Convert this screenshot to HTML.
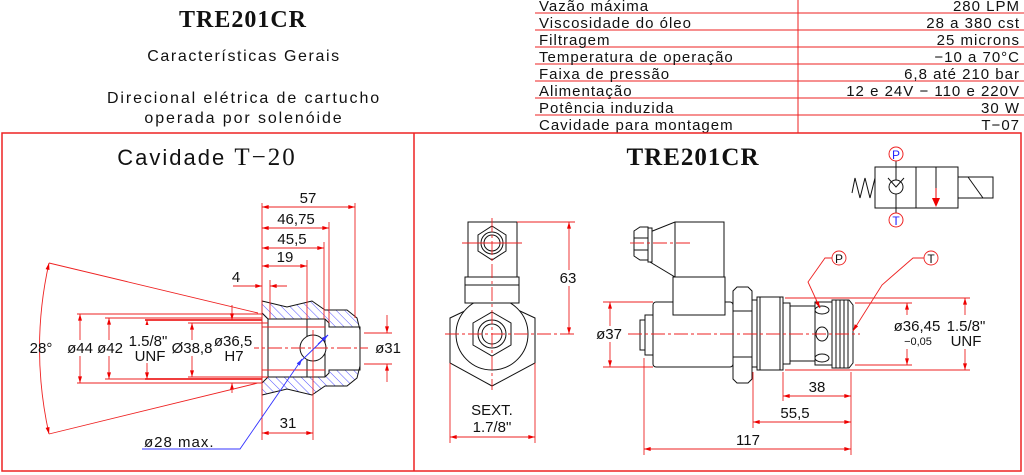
<!DOCTYPE html>
<html><head><meta charset="utf-8"><style>
html,body{margin:0;padding:0;background:#fff;width:1024px;height:475px;overflow:hidden}
svg{display:block}
text{font-family:"Liberation Sans",sans-serif;fill:#111}
.s{font-family:"Liberation Serif",serif}
</style></head><body>
<svg width="1024" height="475" viewBox="0 0 1024 475" xmlns="http://www.w3.org/2000/svg">
<defs>
<marker id="a" viewBox="0 0 10 6" refX="10" refY="3" markerWidth="8" markerHeight="4" orient="auto-start-reverse" markerUnits="userSpaceOnUse"><path d="M0,0 L10,3 L0,6z" fill="#e00"/></marker>
<marker id="b" viewBox="0 0 10 6" refX="10" refY="3" markerWidth="8" markerHeight="4" orient="auto" markerUnits="userSpaceOnUse"><path d="M0,0 L10,3 L0,6z" fill="#33f"/></marker>
<pattern id="h" width="6" height="6" patternUnits="userSpaceOnUse" patternTransform="rotate(-45)"><line x1="0" y1="0" x2="0" y2="6" stroke="#55f" stroke-width="1"/></pattern>
</defs>

<!-- header text -->
<text x="243" y="27" class="s" font-size="24" font-weight="bold" text-anchor="middle" letter-spacing="1">TRE201CR</text>
<text x="244" y="61" font-size="16" text-anchor="middle" letter-spacing="1.6">Características Gerais</text>
<text x="244" y="103" font-size="16" text-anchor="middle" letter-spacing="1.9">Direcional elétrica de cartucho</text>
<text x="244" y="123" font-size="16" text-anchor="middle" letter-spacing="1.9">operada por solenóide</text>

<!-- table -->
<g stroke="#e22" stroke-width="1">
<line x1="535" y1="13" x2="1024" y2="13"/><line x1="535" y1="30" x2="1024" y2="30"/>
<line x1="535" y1="47" x2="1024" y2="47"/><line x1="535" y1="64" x2="1024" y2="64"/>
<line x1="535" y1="81" x2="1024" y2="81"/><line x1="535" y1="98" x2="1024" y2="98"/>
<line x1="535" y1="115" x2="1024" y2="115"/>
<line x1="798" y1="0" x2="798" y2="133"/>
</g>
<g font-size="15" letter-spacing="1">
<text x="539" y="11">Vazão máxima</text><text x="1020" y="11" text-anchor="end">280 LPM</text>
<text x="539" y="28">Viscosidade do óleo</text><text x="1020" y="28" text-anchor="end">28 a 380 cst</text>
<text x="539" y="45">Filtragem</text><text x="1020" y="45" text-anchor="end">25 microns</text>
<text x="539" y="62">Temperatura de operação</text><text x="1020" y="62" text-anchor="end">−10 a 70°C</text>
<text x="539" y="79">Faixa de pressão</text><text x="1020" y="79" text-anchor="end">6,8 até 210 bar</text>
<text x="539" y="96">Alimentação</text><text x="1020" y="96" text-anchor="end">12 e 24V − 110 e 220V</text>
<text x="539" y="113">Potência induzida</text><text x="1020" y="113" text-anchor="end">30 W</text>
<text x="539" y="130">Cavidade para montagem</text><text x="1020" y="130" text-anchor="end">T−07</text>
</g>

<!-- frame -->
<rect x="2" y="133" width="1019" height="338" fill="none" stroke="#e22" stroke-width="1.5"/>
<line x1="414" y1="133" x2="414" y2="471" stroke="#e22" stroke-width="1.5"/>

<!-- LEFT: Cavidade T-20 -->
<text x="207" y="165" font-size="22" text-anchor="middle" letter-spacing="2">Cavidade <tspan class="s" font-size="25">T−20</tspan></text>

<path fill-rule="evenodd" fill="url(#h)" stroke="#111" stroke-width="1"
 d="M262,301 L287,307 L312,301 L325,310 L347,310 L357,318 L360,330 L360,366 L357,378 L347,386 L325,386 L312,395 L287,389 L262,395 Z
    M262,313 L268,319 L325,319 L329,323 L329,327 L360,327 L360,370 L329,370 L329,373 L325,377 L268,377 L262,383 Z"/>
<g stroke="#111" stroke-width="1" fill="none">
<line x1="268" y1="319" x2="268" y2="377"/><line x1="307" y1="319" x2="307" y2="377"/>
<line x1="325" y1="319" x2="325" y2="377"/>
<circle cx="313" cy="348" r="13" fill="#fff"/>
</g>
<g stroke="#e22" stroke-width="0.9" fill="none">
<line x1="245" y1="348" x2="368" y2="348" stroke-dasharray="14,3,3,3"/>
<line x1="313" y1="330" x2="313" y2="440"/>
<line x1="262" y1="203" x2="262" y2="440"/>
<line x1="355" y1="203" x2="355" y2="318"/>
<line x1="329" y1="222" x2="329" y2="323"/>
<line x1="324" y1="242" x2="324" y2="319"/>
<line x1="307" y1="260" x2="307" y2="319"/>
<line x1="270" y1="280" x2="270" y2="319"/>
<line x1="262" y1="207" x2="355" y2="207" marker-start="url(#a)" marker-end="url(#a)"/>
<line x1="262" y1="228" x2="329" y2="228" marker-start="url(#a)" marker-end="url(#a)"/>
<line x1="262" y1="248" x2="324" y2="248" marker-start="url(#a)" marker-end="url(#a)"/>
<line x1="262" y1="266" x2="307" y2="266" marker-start="url(#a)" marker-end="url(#a)"/>
<line x1="233" y1="286" x2="262" y2="286" marker-end="url(#a)"/>
<line x1="287" y1="286" x2="270" y2="286" marker-end="url(#a)"/>
<line x1="77" y1="314" x2="262" y2="314"/><line x1="77" y1="383" x2="262" y2="383"/>
<line x1="105" y1="318" x2="262" y2="318"/><line x1="105" y1="379" x2="262" y2="379"/>
<line x1="145" y1="320" x2="262" y2="320" stroke-width="1.8"/><line x1="145" y1="379" x2="262" y2="379" stroke-width="1.8"/>
<line x1="188" y1="323" x2="268" y2="323"/><line x1="188" y1="377" x2="268" y2="377"/>
<line x1="262" y1="327" x2="325" y2="327"/><line x1="262" y1="370" x2="325" y2="370"/>
<line x1="364" y1="333" x2="392" y2="333"/><line x1="364" y1="364" x2="392" y2="364"/>
<line x1="80" y1="314" x2="80" y2="383" marker-start="url(#a)" marker-end="url(#a)"/>
<line x1="109" y1="318" x2="109" y2="379" marker-start="url(#a)" marker-end="url(#a)"/>
<line x1="147" y1="320" x2="147" y2="379" marker-start="url(#a)" marker-end="url(#a)"/>
<line x1="192" y1="323" x2="192" y2="377" marker-start="url(#a)" marker-end="url(#a)"/>
<line x1="232" y1="305" x2="232" y2="320" marker-end="url(#a)"/>
<line x1="232" y1="393" x2="232" y2="383" marker-end="url(#a)"/>
<line x1="387" y1="315" x2="387" y2="333" marker-end="url(#a)"/>
<line x1="387" y1="382" x2="387" y2="364" marker-end="url(#a)"/>
<line x1="49" y1="263" x2="258" y2="313"/><line x1="49" y1="434" x2="258" y2="383"/>
<path d="M49,263 Q30,348 49,434" marker-start="url(#a)" marker-end="url(#a)"/>
<line x1="262" y1="433" x2="313" y2="433" marker-start="url(#a)" marker-end="url(#a)"/>
</g>
<g stroke="#33f" stroke-width="0.9" fill="none">
<polyline points="142,449 240,449 300,362"/>
<line x1="300" y1="362" x2="328" y2="335"/>
<line x1="300" y1="362" x2="302" y2="359" marker-end="url(#b)"/>
<line x1="318" y1="344" x2="328" y2="335" marker-end="url(#b)"/>
</g>
<g font-size="15" text-anchor="middle">
<text x="308" y="203">57</text><text x="296" y="224">46,75</text><text x="292" y="244">45,5</text>
<text x="285" y="262">19</text><text x="236" y="282">4</text>
<text x="41" y="353">28°</text>
<rect x="66" y="340" width="28" height="16" fill="#fff"/><text x="80" y="353">ø44</text>
<rect x="96" y="340" width="27" height="16" fill="#fff"/><text x="110" y="353">ø42</text>
<rect x="126" y="325" width="44" height="38" fill="#fff"/><text x="148" y="346">1.5/8"</text><text x="150" y="361">UNF</text>
<rect x="171" y="340" width="42" height="16" fill="#fff"/><text x="192" y="353">Ø38,8</text>
<rect x="212" y="325" width="42" height="38" fill="#fff"/><text x="233" y="346">ø36,5</text><text x="234" y="361">H7</text>
<text x="388" y="353">ø31</text>
<text x="288" y="428">31</text>
<text x="144" y="447" text-anchor="start" letter-spacing="1">ø28 max.</text>
</g>

<!-- RIGHT -->
<text x="693" y="165" class="s" font-size="25" font-weight="bold" text-anchor="middle" letter-spacing="1">TRE201CR</text>

<g stroke="#111" stroke-width="1" fill="none">
<rect x="875" y="167" width="83" height="41"/>
<line x1="916" y1="167" x2="916" y2="208"/>
<rect x="958" y="177" width="35" height="21"/>
<line x1="968" y1="177" x2="983" y2="198"/>
<polyline points="852,193 855,178 860,198 865,178 870,198 875,178"/>
<line x1="896" y1="161" x2="896" y2="213"/>
<circle cx="896" cy="187" r="7" fill="#fff"/>
<polyline points="888,178 896,187 904,178"/>
<line x1="936" y1="167" x2="936" y2="200"/>
</g>
<path d="M932,198 L940,198 L936,207z" fill="#e00"/>
<line x1="936" y1="188" x2="936" y2="200" stroke="#e00"/>
<circle cx="896" cy="154" r="7" fill="#fff" stroke="#e22"/><text x="896" y="159" font-size="12" text-anchor="middle" style="fill:#22f">P</text>
<circle cx="896" cy="220" r="7" fill="#fff" stroke="#e22"/><text x="896" y="225" font-size="12" text-anchor="middle" style="fill:#22f">T</text>

<g stroke="#111" stroke-width="1" fill="#fff">
<polygon points="492,298 535,318 535,363 492,386 450,363 450,318"/>
<circle cx="492" cy="334" r="36"/>
<rect x="465" y="277" width="54" height="26"/>
<rect x="468" y="222" width="49" height="55"/>
<line x1="465" y1="285" x2="519" y2="285"/>
<polygon points="492,226 506,235 506,251 492,260 478,251 478,235"/>
<circle cx="492" cy="243" r="11"/><circle cx="492" cy="243" r="8"/>
<polygon points="492,312 511,323 511,345 492,356 473,345 473,323"/>
<circle cx="492" cy="334" r="14"/><circle cx="492" cy="334" r="10"/>
</g>
<g stroke="#e22" stroke-width="0.9" fill="none">
<line x1="492" y1="218" x2="492" y2="390" stroke-dasharray="14,3,3,3"/>
<line x1="462" y1="243" x2="522" y2="243"/>
<line x1="445" y1="334" x2="575" y2="334" stroke-dasharray="14,3,3,3"/>
<line x1="517" y1="222" x2="575" y2="222"/>
<line x1="569" y1="222" x2="569" y2="334" marker-start="url(#a)" marker-end="url(#a)"/>
<line x1="450" y1="363" x2="450" y2="443"/><line x1="535" y1="363" x2="535" y2="443"/>
<line x1="450" y1="437" x2="535" y2="437" marker-start="url(#a)" marker-end="url(#a)"/>
</g>
<g font-size="15" text-anchor="middle">
<rect x="558" y="270" width="22" height="16" fill="#fff"/><text x="568" y="283">63</text>
<text x="492" y="415">SEXT.</text><text x="492" y="432">1.7/8"</text>
</g>

<g stroke="#111" stroke-width="1" fill="#fff">
<rect x="640" y="320" width="6" height="30"/>
<rect x="645" y="315" width="8" height="40"/>
<rect x="653" y="302" width="80" height="65" rx="3"/>
<rect x="673" y="277" width="52" height="38"/>
<polygon points="650,232 675,222 724,222 724,277 675,277 650,262"/>
<line x1="675" y1="222" x2="675" y2="277"/>
<rect x="648" y="228" width="4" height="34"/>
<polygon points="634,231 640,227 648,227 648,260 640,260 634,256"/>
<line x1="634" y1="238" x2="648" y2="238"/><line x1="634" y1="250" x2="648" y2="250"/>
<polygon points="733,291 737,287 748,287 752,291 752,379 748,383 737,383 733,379"/>
<line x1="733" y1="311" x2="752" y2="311"/><line x1="733" y1="357" x2="752" y2="357"/>
<rect x="752" y="300" width="5" height="67"/>
<rect x="757" y="297" width="26" height="73"/>
<line x1="760" y1="297" x2="760" y2="370"/><line x1="780" y1="297" x2="780" y2="370"/>
<rect x="783" y="303" width="7" height="61"/>
<rect x="790" y="306" width="25" height="55"/>
<rect x="815" y="302" width="17" height="63"/>
<polygon points="832,300 849,300 853,305 853,363 849,368 832,368"/>
<line x1="836" y1="300" x2="836" y2="368"/><line x1="840" y1="300" x2="840" y2="368"/><line x1="844" y1="300" x2="844" y2="368"/><line x1="848" y1="300" x2="848" y2="368"/>
<ellipse cx="822" cy="310" rx="7" ry="4"/><ellipse cx="822" cy="334" rx="6" ry="7"/><ellipse cx="822" cy="358" rx="7" ry="4"/>
</g>
<g stroke="#e22" stroke-width="0.9" fill="none">
<line x1="628" y1="334" x2="860" y2="334" stroke-dasharray="14,3,3,3"/>
<line x1="630" y1="243" x2="690" y2="243" stroke-dasharray="14,3,3,3"/>
<line x1="603" y1="302" x2="653" y2="302"/><line x1="603" y1="367" x2="653" y2="367"/>
<line x1="610" y1="302" x2="610" y2="367" marker-start="url(#a)" marker-end="url(#a)"/>
<line x1="855" y1="303" x2="912" y2="303"/><line x1="855" y1="365" x2="912" y2="365"/>
<line x1="907" y1="303" x2="907" y2="365" marker-start="url(#a)" marker-end="url(#a)"/>
<line x1="785" y1="298" x2="970" y2="298"/><line x1="785" y1="370" x2="970" y2="370"/>
<line x1="965" y1="298" x2="965" y2="370" marker-start="url(#a)" marker-end="url(#a)"/>
<line x1="644" y1="358" x2="644" y2="455"/>
<line x1="753" y1="372" x2="753" y2="428"/>
<line x1="783" y1="372" x2="783" y2="401"/>
<line x1="851" y1="372" x2="851" y2="455"/>
<line x1="783" y1="396" x2="851" y2="396" marker-start="url(#a)" marker-end="url(#a)"/>
<line x1="753" y1="422" x2="851" y2="422" marker-start="url(#a)" marker-end="url(#a)"/>
<line x1="644" y1="449" x2="851" y2="449" marker-start="url(#a)" marker-end="url(#a)"/>
<polyline points="832,258 825,258 808,282 820,308" />
<line x1="816" y1="300" x2="820" y2="308" marker-end="url(#a)"/>
<polyline points="924,258 913,258 882,285 853,331"/>
<line x1="856" y1="326" x2="853" y2="331" marker-end="url(#a)"/>
<circle cx="839" cy="258" r="7" fill="#fff"/>
<circle cx="931" cy="258" r="7" fill="#fff"/>
</g>
<g font-size="15" text-anchor="middle">
<text x="839" y="263" font-size="12">P</text><text x="931" y="263" font-size="12">T</text>
<rect x="594" y="326" width="32" height="16" fill="#fff"/><text x="609" y="339">ø37</text>
<rect x="893" y="315" width="48" height="34" fill="#fff"/><text x="917" y="331">ø36,45</text><text x="918" y="345" font-size="11">−0,05</text>
<rect x="943" y="315" width="46" height="34" fill="#fff"/><text x="966" y="331">1.5/8"</text><text x="966" y="346">UNF</text>
<text x="817" y="392">38</text><text x="795" y="418">55,5</text><text x="748" y="445">117</text>
</g>
</svg>
</body></html>
